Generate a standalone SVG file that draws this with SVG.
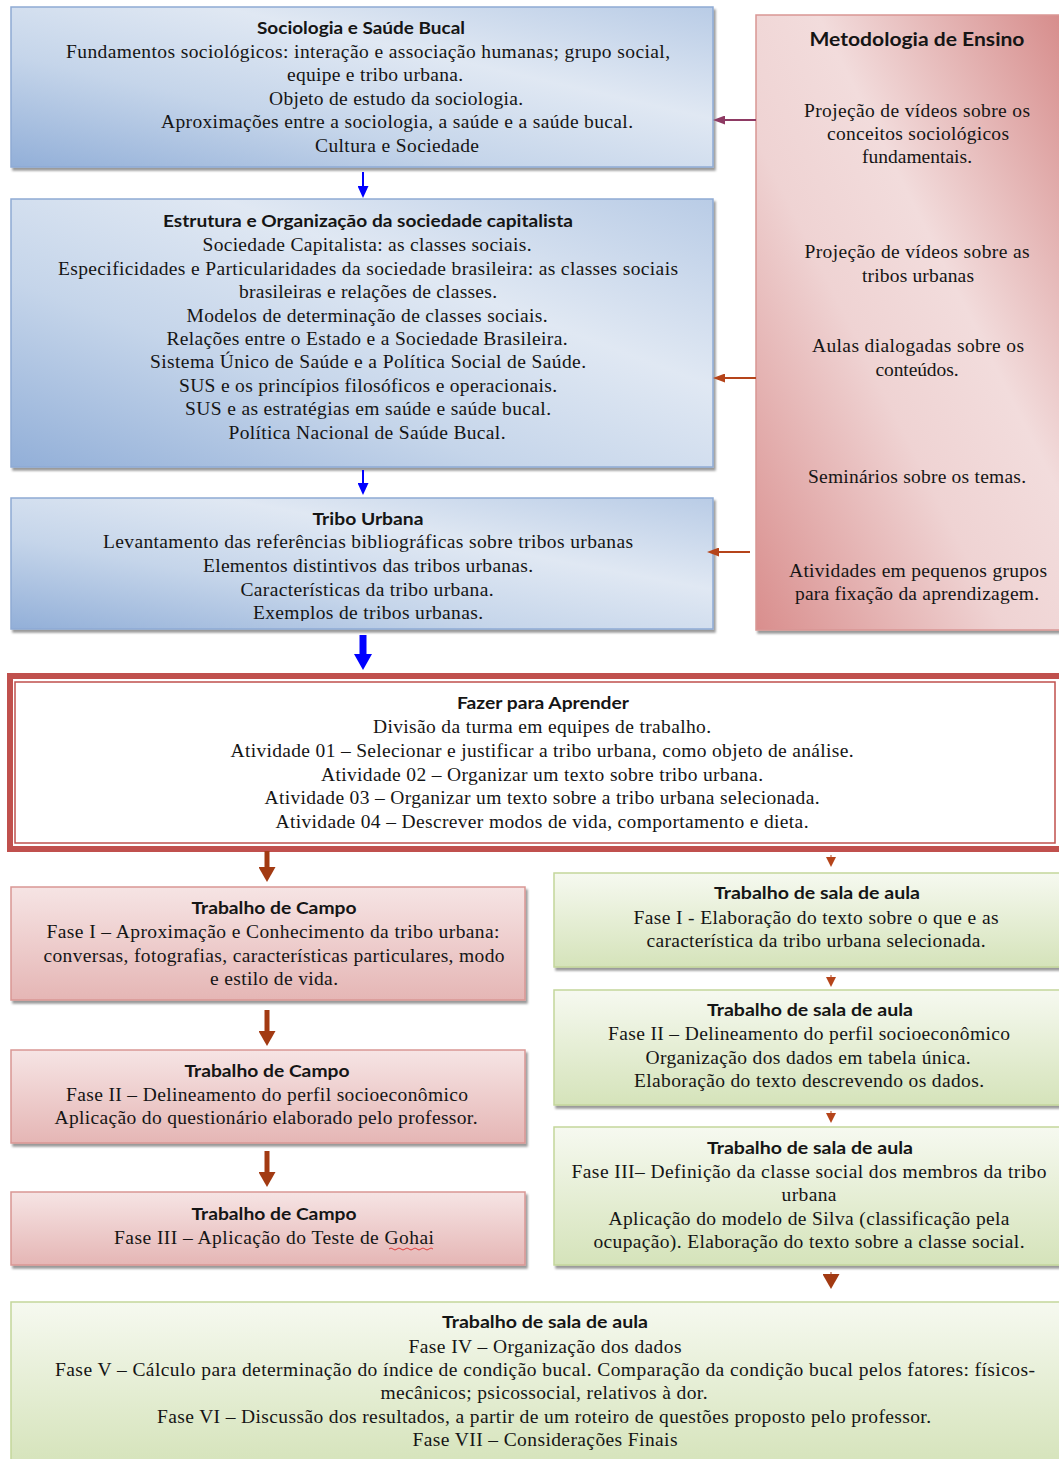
<svg xmlns="http://www.w3.org/2000/svg" width="1059" height="1459" viewBox="0 0 1059 1459">
<defs>
<style>
.t{font-family:"Liberation Serif","Times New Roman",serif;font-size:19.5px;fill:#151515;text-anchor:middle;}
.h{font-family:Lato,"Liberation Sans",sans-serif;font-weight:bold;font-size:17px;fill:#151515;text-anchor:middle;}
.blue{fill:url(#gBlue);stroke:#8eaad4;stroke-width:1.5;filter:url(#sh);}
.rose{fill:url(#gRose);stroke:#d99694;stroke-width:1.5;filter:url(#sh);}
.pink{fill:url(#gPink);stroke:#d99694;stroke-width:1.5;filter:url(#sh);}
.green{fill:url(#gGreen);stroke:#c3d69b;stroke-width:1.5;filter:url(#sh);}
</style>
<linearGradient id="gBlue" x1="0" y1="1" x2="1" y2="0">
<stop offset="0" stop-color="#92afd8"/>
<stop offset="0.35" stop-color="#c5d5ea"/>
<stop offset="0.65" stop-color="#e0e8f3"/>
<stop offset="1" stop-color="#b9cce6"/>
</linearGradient>
<linearGradient id="gRose" x1="0" y1="1" x2="1" y2="0">
<stop offset="0" stop-color="#d98e8d"/>
<stop offset="0.4" stop-color="#efd3d3"/>
<stop offset="0.6" stop-color="#f2dcdc"/>
<stop offset="1" stop-color="#d68b8a"/>
</linearGradient>
<linearGradient id="gPink" x1="0" y1="0" x2="0" y2="1">
<stop offset="0" stop-color="#f6e4e4"/>
<stop offset="1" stop-color="#e5b6b5"/>
</linearGradient>
<linearGradient id="gGreen" x1="0" y1="0" x2="0" y2="1">
<stop offset="0" stop-color="#f6f9f0"/>
<stop offset="1" stop-color="#d5e3ba"/>
</linearGradient>
<filter id="sh" x="-5%" y="-5%" width="110%" height="115%">
<feDropShadow dx="2" dy="3" stdDeviation="1.2" flood-color="#000" flood-opacity="0.4"/>
</filter>
<clipPath id="clipB3"><rect x="11" y="498" width="702" height="123"/></clipPath>
<marker id="aBlue" viewBox="0 0 10 10" refX="0" refY="5" markerUnits="userSpaceOnUse" markerWidth="12" markerHeight="11" orient="auto" preserveAspectRatio="none"><path d="M0,0 L10,5 L0,10 z" fill="#0000ff"/></marker>
<marker id="aBlueBig" viewBox="0 0 10 10" refX="0" refY="5" markerUnits="userSpaceOnUse" markerWidth="16" markerHeight="18" orient="auto" preserveAspectRatio="none"><path d="M0,0 L10,5 L0,10 z" fill="#0000ff"/></marker>
<marker id="aBrownBig" viewBox="0 0 10 10" refX="0" refY="5" markerUnits="userSpaceOnUse" markerWidth="15" markerHeight="17" orient="auto" preserveAspectRatio="none"><path d="M0,0 L10,5 L0,10 z" fill="#a23a12"/></marker>
<marker id="aBrownSm" viewBox="0 0 10 10" refX="0" refY="5" markerUnits="userSpaceOnUse" markerWidth="10" markerHeight="10" orient="auto" preserveAspectRatio="none"><path d="M0,0 L10,5 L0,10 z" fill="#b5441a"/></marker>
<marker id="aLeftP" viewBox="0 0 10 10" refX="0" refY="5" markerUnits="userSpaceOnUse" markerWidth="12" markerHeight="9" orient="auto" preserveAspectRatio="none"><path d="M0,0 L10,5 L0,10 z" fill="#8e3a63"/></marker>
<marker id="aLeftB" viewBox="0 0 10 10" refX="0" refY="5" markerUnits="userSpaceOnUse" markerWidth="12" markerHeight="9" orient="auto" preserveAspectRatio="none"><path d="M0,0 L10,5 L0,10 z" fill="#b5441a"/></marker>
</defs>
<rect width="1059" height="1459" fill="#ffffff"/>

<g id="sociologia">
<rect class="blue" x="11" y="7" width="702" height="160"/>
<text class="h" x="361" y="34" textLength="208" lengthAdjust="spacingAndGlyphs">Sociologia e Saúde Bucal</text>
<text class="t" x="368" y="58" textLength="604" lengthAdjust="spacing">Fundamentos sociológicos: interação e associação humanas; grupo social,</text>
<text class="t" x="375" y="81" textLength="176" lengthAdjust="spacing">equipe e tribo urbana.</text>
<text class="t" x="396" y="105" textLength="254" lengthAdjust="spacing">Objeto de estudo da sociologia.</text>
<text class="t" x="397" y="128" textLength="472" lengthAdjust="spacing">Aproximações entre a sociologia, a saúde e a saúde bucal.</text>
<text class="t" x="397" y="152" textLength="164" lengthAdjust="spacing">Cultura e Sociedade</text>
</g>

<g id="estrutura">
<rect class="blue" x="11" y="199" width="702" height="268"/>
<text class="h" x="368" y="227" textLength="410" lengthAdjust="spacingAndGlyphs">Estrutura e Organização da sociedade capitalista</text>
<text class="t" x="367" y="251" textLength="329" lengthAdjust="spacing">Sociedade Capitalista: as classes sociais.</text>
<text class="t" x="368" y="275" textLength="620" lengthAdjust="spacing">Especificidades e Particularidades da sociedade brasileira: as classes sociais</text>
<text class="t" x="368" y="298" textLength="258" lengthAdjust="spacing">brasileiras e relações de classes.</text>
<text class="t" x="367" y="322" textLength="361" lengthAdjust="spacing">Modelos de determinação de classes sociais.</text>
<text class="t" x="367" y="345" textLength="401" lengthAdjust="spacing">Relações entre o Estado e a Sociedade Brasileira.</text>
<text class="t" x="368" y="368" textLength="436" lengthAdjust="spacing">Sistema Único de Saúde e a Política Social de Saúde.</text>
<text class="t" x="368" y="392" textLength="378" lengthAdjust="spacing">SUS e os princípios filosóficos e operacionais.</text>
<text class="t" x="368" y="415" textLength="366" lengthAdjust="spacing">SUS e as estratégias em saúde e saúde bucal.</text>
<text class="t" x="367" y="439" textLength="277" lengthAdjust="spacing">Política Nacional de Saúde Bucal.</text>
</g>

<g id="tribo">
<rect class="blue" x="11" y="498" width="702" height="131"/>
<g clip-path="url(#clipB3)">
<text class="h" x="368" y="525" textLength="111" lengthAdjust="spacingAndGlyphs">Tribo Urbana</text>
<text class="t" x="368" y="548" textLength="530" lengthAdjust="spacing">Levantamento das referências bibliográficas sobre tribos urbanas</text>
<text class="t" x="368" y="572" textLength="330" lengthAdjust="spacing">Elementos distintivos das tribos urbanas.</text>
<text class="t" x="367" y="596" textLength="253" lengthAdjust="spacing">Características da tribo urbana.</text>
<text class="t" x="368" y="619" textLength="230" lengthAdjust="spacing">Exemplos de tribos urbanas.</text>
</g>
</g>

<g id="metodologia">
<rect class="rose" x="756" y="15" width="310" height="615"/>
<text class="h" x="917" y="46" textLength="215" lengthAdjust="spacingAndGlyphs" style="font-size:19px">Metodologia de Ensino</text>
<text class="t" x="917" y="117" textLength="226" lengthAdjust="spacing">Projeção de vídeos sobre os</text>
<text class="t" x="918" y="140" textLength="182" lengthAdjust="spacing">conceitos sociológicos</text>
<text class="t" x="917" y="163" textLength="110" lengthAdjust="spacing">fundamentais.</text>
<text class="t" x="917" y="258" textLength="225" lengthAdjust="spacing">Projeção de vídeos sobre as</text>
<text class="t" x="918" y="282" textLength="112" lengthAdjust="spacing">tribos urbanas</text>
<text class="t" x="918" y="352" textLength="212" lengthAdjust="spacing">Aulas dialogadas sobre os</text>
<text class="t" x="917" y="376" textLength="83" lengthAdjust="spacing">conteúdos.</text>
<text class="t" x="917" y="483" textLength="218" lengthAdjust="spacing">Seminários sobre os temas.</text>
<text class="t" x="918" y="577" textLength="258" lengthAdjust="spacing">Atividades em pequenos grupos</text>
<text class="t" x="917" y="600" textLength="244" lengthAdjust="spacing">para fixação da aprendizagem.</text>
</g>

<g id="fazer">
<rect x="10" y="676" width="1052" height="173" fill="#ffffff" stroke="#c0504d" stroke-width="6"/>
<rect x="15" y="682" width="1040" height="161" fill="none" stroke="#c0504d" stroke-width="1.5"/>
<text class="h" x="543" y="709" textLength="172" lengthAdjust="spacingAndGlyphs">Fazer para Aprender</text>
<text class="t" x="542" y="733" textLength="338" lengthAdjust="spacing">Divisão da turma em equipes de trabalho.</text>
<text class="t" x="542" y="757" textLength="623" lengthAdjust="spacing">Atividade 01 – Selecionar e justificar a tribo urbana, como objeto de análise.</text>
<text class="t" x="542" y="781" textLength="442" lengthAdjust="spacing">Atividade 02 – Organizar um texto sobre tribo urbana.</text>
<text class="t" x="542" y="804" textLength="555" lengthAdjust="spacing">Atividade 03 – Organizar um texto sobre a tribo urbana selecionada.</text>
<text class="t" x="542" y="828" textLength="533" lengthAdjust="spacing">Atividade 04 – Descrever modos de vida, comportamento e dieta.</text>
</g>

<g id="campo1">
<rect class="pink" x="11" y="887" width="514" height="113"/>
<text class="h" x="274" y="914" textLength="165" lengthAdjust="spacingAndGlyphs">Trabalho de Campo</text>
<text class="t" x="273" y="938" textLength="453" lengthAdjust="spacing">Fase I – Aproximação e Conhecimento da tribo urbana:</text>
<text class="t" x="274" y="962" textLength="461" lengthAdjust="spacing">conversas, fotografias, características particulares, modo</text>
<text class="t" x="274" y="985" textLength="128" lengthAdjust="spacing">e estilo de vida.</text>
</g>

<g id="campo2">
<rect class="pink" x="11" y="1050" width="514" height="93"/>
<text class="h" x="267" y="1077" textLength="165" lengthAdjust="spacingAndGlyphs">Trabalho de Campo</text>
<text class="t" x="267" y="1101" textLength="402" lengthAdjust="spacing">Fase II – Delineamento do perfil socioeconômico</text>
<text class="t" x="266" y="1124" textLength="423" lengthAdjust="spacing">Aplicação do questionário elaborado pelo professor.</text>
</g>

<g id="campo3">
<rect class="pink" x="11" y="1192" width="514" height="73"/>
<text class="h" x="274" y="1220" textLength="165" lengthAdjust="spacingAndGlyphs">Trabalho de Campo</text>
<text class="t" x="274" y="1244" textLength="320" lengthAdjust="spacing">Fase III – Aplicação do Teste de Gohai</text>
<path d="M389,1249 q2,-2 4,0 t4,0 t4,0 t4,0 t4,0 t4,0 t4,0 t4,0 t4,0 t4,0 t4,0" fill="none" stroke="#e03030" stroke-width="0.9"/>
</g>

<g id="sala1">
<rect class="green" x="554" y="873" width="510" height="94"/>
<text class="h" x="817" y="899" textLength="206" lengthAdjust="spacingAndGlyphs">Trabalho de sala de aula</text>
<text class="t" x="816" y="924" textLength="365" lengthAdjust="spacing">Fase I - Elaboração do texto sobre o que e as</text>
<text class="t" x="816" y="947" textLength="339" lengthAdjust="spacing">característica da tribo urbana selecionada.</text>
</g>

<g id="sala2">
<rect class="green" x="554" y="990" width="510" height="115"/>
<text class="h" x="810" y="1016" textLength="206" lengthAdjust="spacingAndGlyphs">Trabalho de sala de aula</text>
<text class="t" x="809" y="1040" textLength="402" lengthAdjust="spacing">Fase II – Delineamento do perfil socioeconômico</text>
<text class="t" x="808" y="1064" textLength="325" lengthAdjust="spacing">Organização dos dados em tabela única.</text>
<text class="t" x="809" y="1087" textLength="350" lengthAdjust="spacing">Elaboração do texto descrevendo os dados.</text>
</g>

<g id="sala3">
<rect class="green" x="554" y="1127" width="510" height="138"/>
<text class="h" x="810" y="1154" textLength="206" lengthAdjust="spacingAndGlyphs">Trabalho de sala de aula</text>
<text class="t" x="809" y="1178" textLength="475" lengthAdjust="spacing">Fase III– Definição da classe social dos membros da tribo</text>
<text class="t" x="809" y="1201" textLength="55" lengthAdjust="spacing">urbana</text>
<text class="t" x="809" y="1225" textLength="401" lengthAdjust="spacing">Aplicação do modelo de Silva (classificação pela</text>
<text class="t" x="809" y="1248" textLength="431" lengthAdjust="spacing">ocupação). Elaboração do texto sobre a classe social.</text>
</g>

<g id="sala4">
<rect class="green" x="11" y="1302" width="1055" height="165"/>
<text class="h" x="545" y="1328" textLength="206" lengthAdjust="spacingAndGlyphs">Trabalho de sala de aula</text>
<text class="t" x="545" y="1353" textLength="273" lengthAdjust="spacing">Fase IV – Organização dos dados</text>
<text class="t" x="545" y="1376" textLength="980" lengthAdjust="spacing">Fase V – Cálculo para determinação do índice de condição bucal.  Comparação da condição bucal pelos fatores: físicos-</text>
<text class="t" x="544" y="1399" textLength="327" lengthAdjust="spacing">mecânicos; psicossocial, relativos à dor.</text>
<text class="t" x="544" y="1423" textLength="774" lengthAdjust="spacing">Fase VI – Discussão dos resultados, a partir de um roteiro de questões proposto pelo professor.</text>
<text class="t" x="545" y="1446" textLength="265" lengthAdjust="spacing">Fase VII – Considerações Finais</text>
</g>

<g id="connectors" fill="none">
<line x1="363" y1="172" x2="363" y2="186" stroke="#0000ff" stroke-width="2" marker-end="url(#aBlue)"/>
<line x1="363" y1="470" x2="363" y2="483" stroke="#0000ff" stroke-width="2" marker-end="url(#aBlue)"/>
<line x1="363" y1="635" x2="363" y2="654" stroke="#0000ff" stroke-width="7" marker-end="url(#aBlueBig)"/>
<line x1="756" y1="120" x2="725" y2="120" stroke="#8e3a63" stroke-width="2" marker-end="url(#aLeftP)"/>
<line x1="756" y1="378" x2="725" y2="378" stroke="#b5441a" stroke-width="2" marker-end="url(#aLeftB)"/>
<line x1="750" y1="552" x2="719" y2="552" stroke="#b5441a" stroke-width="2" marker-end="url(#aLeftB)"/>
<line x1="267" y1="851" x2="267" y2="867" stroke="#a23a12" stroke-width="5" marker-end="url(#aBrownBig)"/>
<line x1="267" y1="1010" x2="267" y2="1031" stroke="#a23a12" stroke-width="5" marker-end="url(#aBrownBig)"/>
<line x1="267" y1="1151" x2="267" y2="1172" stroke="#a23a12" stroke-width="5" marker-end="url(#aBrownBig)"/>
<line x1="831" y1="855" x2="831" y2="857" stroke="#b5441a" stroke-width="1" marker-end="url(#aBrownSm)"/>
<line x1="831" y1="975" x2="831" y2="977" stroke="#b5441a" stroke-width="1" marker-end="url(#aBrownSm)"/>
<line x1="831" y1="1111" x2="831" y2="1113" stroke="#b5441a" stroke-width="1" marker-end="url(#aBrownSm)"/>
<line x1="831" y1="1272" x2="831" y2="1274" stroke="#a23a12" stroke-width="1" marker-end="url(#aBrownBig)"/>
</g>
</svg>
